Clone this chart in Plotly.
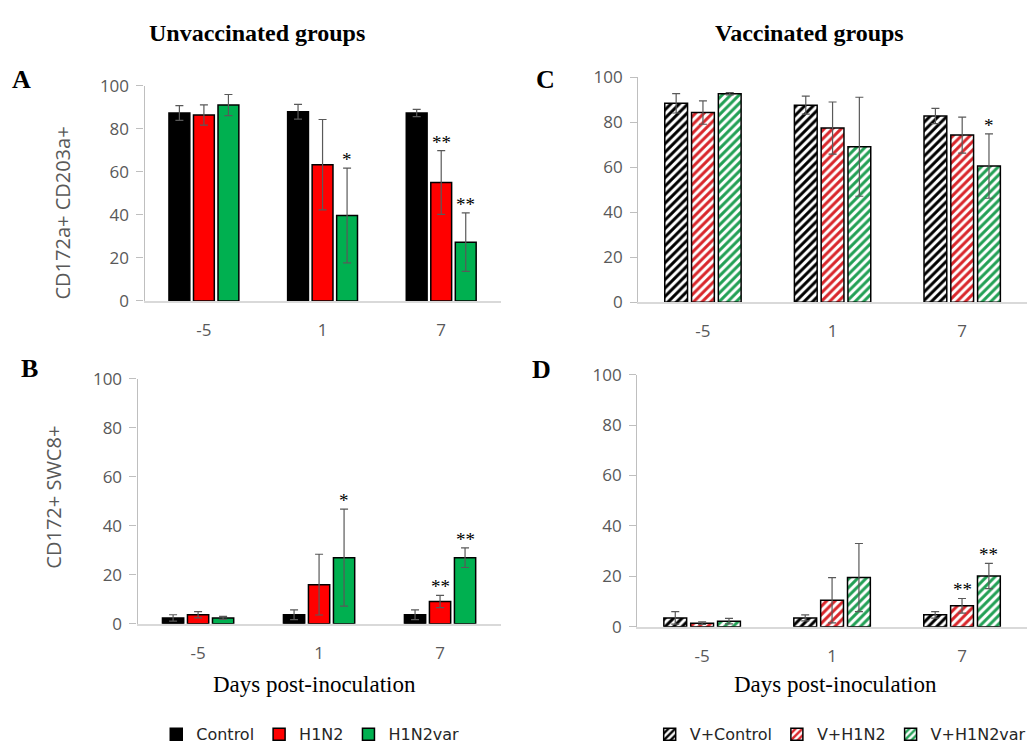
import plotly.graph_objects as go

days = ["-5", "1", "7"]

# Panel A: CD172a+ CD203a+ (unvaccinated)
a_control = [87.3, 87.9, 87.3]
a_control_err = [3.4, 3.4, 1.7]
a_h1n2 = [86.4, 63.3, 55.0]
a_h1n2_err = [4.7, 21.0, 14.8]
a_h1n2var = [91.0, 39.7, 27.3]
a_h1n2var_err = [4.9, 22.0, 13.6]

# Panel B: CD172+ SWC8+ (unvaccinated)
b_control = [2.4, 3.7, 3.7]
b_control_err = [1.3, 2.0, 2.0]
b_h1n2 = [3.7, 16.0, 9.1]
b_h1n2_err = [1.3, 12.4, 2.5]
b_h1n2var = [2.4, 27.0, 27.0]
b_h1n2var_err = [0.6, 19.8, 4.0]

# Panel C: CD172a+ CD203a+ (vaccinated)
c_control = [88.4, 87.6, 82.8]
c_control_err = [4.3, 4.0, 3.4]
c_h1n2 = [84.3, 77.4, 74.3]
c_h1n2_err = [5.2, 11.6, 8.0]
c_h1n2var = [92.7, 69.1, 60.5]
c_h1n2var_err = [0.5, 22.0, 14.3]

# Panel D: CD172+ SWC8+ (vaccinated)
d_control = [3.5, 3.5, 4.7]
d_control_err = [2.5, 1.2, 1.3]
d_h1n2 = [1.4, 10.5, 8.3]
d_h1n2_err = [0.5, 9.0, 2.9]
d_h1n2var = [2.2, 19.5, 20.1]
d_h1n2var_err = [1.1, 13.5, 5.0]

# significance marks: (panel, series index, day index, text)
sig_marks = [
    ("A", 2, 1, "*"), ("A", 1, 2, "**"), ("A", 2, 2, "**"),
    ("B", 2, 1, "*"), ("B", 1, 2, "**"), ("B", 2, 2, "**"),
    ("C", 2, 2, "*"),
    ("D", 1, 2, "**"), ("D", 2, 2, "**"),
]

unvac_names = ["Control", "H1N2", "H1N2var"]
vac_names = ["V+Control", "V+H1N2", "V+H1N2var"]
solid_colors = ["#000000", "#ff0000", "#00b050"]
stripe_colors = ["#000000", "#d9262b", "#22a055"]

panels = {
    "A": dict(ax="", vals=[(a_control, a_control_err), (a_h1n2, a_h1n2_err), (a_h1n2var, a_h1n2var_err)], vac=False, legend=True),
    "B": dict(ax="3", vals=[(b_control, b_control_err), (b_h1n2, b_h1n2_err), (b_h1n2var, b_h1n2var_err)], vac=False, legend=False),
    "C": dict(ax="2", vals=[(c_control, c_control_err), (c_h1n2, c_h1n2_err), (c_h1n2var, c_h1n2var_err)], vac=True, legend=True),
    "D": dict(ax="4", vals=[(d_control, d_control_err), (d_h1n2, d_h1n2_err), (d_h1n2var, d_h1n2var_err)], vac=True, legend=False),
}

fig = go.Figure()

for key, p in panels.items():
    for i, (v, e) in enumerate(p["vals"]):
        if p["vac"]:
            marker = dict(color="white",
                          pattern=dict(shape="/", fgcolor=stripe_colors[i], bgcolor="white",
                                       fgopacity=1, size=6, solidity=0.5, fillmode="replace"),
                          line=dict(color="black", width=1.5))
            name = vac_names[i]
            leg = "legend2"
        else:
            marker = dict(color=solid_colors[i], line=dict(color="black", width=1.5))
            name = unvac_names[i]
            leg = "legend"
        fig.add_trace(go.Bar(
            x=days, y=v, name=name, marker=marker,
            error_y=dict(type="data", array=e, visible=True, color="#595959", thickness=1.2, width=4),
            xaxis="x" + p["ax"], yaxis="y" + p["ax"],
            showlegend=p["legend"], legend=leg,
            offsetgroup=str(i), legendgroup=name,
        ))

bargap = 0.38
slot = (1 - bargap) / 3
for key, s_idx, d_idx, txt in sig_marks:
    p = panels[key]
    v, e = p["vals"][s_idx]
    xpos = d_idx - (1 - bargap) / 2 + (s_idx + 0.5) * slot
    fig.add_annotation(
        x=xpos, y=v[d_idx] + e[d_idx], xref="x" + p["ax"], yref="y" + p["ax"],
        text=txt, showarrow=False, yanchor="bottom", yshift=-4,
        font=dict(family="Liberation Serif", size=19, color="black"),
    )

domains = {
    "": ([145 / 1031, 502 / 1031], [1 - 298 / 756, 1 - 76 / 756]),
    "3": ([138 / 1031, 502 / 1031], [1 - 631 / 756, 1 - 378.5 / 756]),
    "2": ([640 / 1031, 1030 / 1031], [1 - 299.3 / 756, 1 - 67.3 / 756]),
    "4": ([639 / 1031, 1030 / 1031], [1 - 634 / 756, 1 - 374 / 756]),
}

tickfont = dict(family="Open Sans", size=17, color="#595959")
layout_axes = {}
for ax, (xd, yd) in domains.items():
    layout_axes["xaxis" + ax] = dict(
        domain=xd, anchor="y" + ax, type="category", range=[-0.5, 2.5],
        showline=True, linecolor="#d9d9d9", linewidth=1.5, ticks="",
        showgrid=False, zeroline=False, tickfont=tickfont, ticklabelstandoff=13,
        fixedrange=True,
    )
    layout_axes["yaxis" + ax] = dict(
        domain=yd, anchor="x" + ax, range=[0, 100], dtick=20,
        showline=True, linecolor="#bfbfbf", linewidth=1.2, ticks="outside",
        ticklen=7, tickcolor="#bfbfbf", tickwidth=1.2,
        showgrid=False, zeroline=False, tickfont=tickfont, ticklabelstandoff=4,
    )

fig.update_layout(
    width=1031, height=756, margin=dict(l=0, r=0, t=0, b=0),
    paper_bgcolor="white", plot_bgcolor="white",
    barmode="group", bargap=bargap, bargroupgap=0.15,
    legend=dict(orientation="h", x=0.152, y=1 - 745 / 756, xanchor="left", yanchor="middle",
                font=dict(family="DejaVu Sans", size=16, color="#262626"),
                itemwidth=30, traceorder="normal", bgcolor="rgba(0,0,0,0)"),
    legend2=dict(orientation="h", x=0.632, y=1 - 745 / 756, xanchor="left", yanchor="middle",
                 font=dict(family="DejaVu Sans", size=16, color="#262626"),
                 itemwidth=30, traceorder="normal", bgcolor="rgba(0,0,0,0)"),
    **layout_axes,
)

serif = "Liberation Serif"
texts = [
    ("Unvaccinated groups", 258, 22, dict(family=serif, size=24, color="black"), True, 0),
    ("Vaccinated groups", 812, 22, dict(family=serif, size=24, color="black"), True, 0),
    ("A", 22, 70, dict(family=serif, size=26, color="black"), True, 0),
    ("C", 547, 70, dict(family=serif, size=26, color="black"), True, 0),
    ("B", 30, 368, dict(family=serif, size=26, color="black"), True, 0),
    ("D", 543, 369, dict(family=serif, size=26, color="black"), True, 0),
    ("Days post-inoculation", 315, 694, dict(family=serif, size=23, color="black"), False, 0),
    ("Days post-inoculation", 838, 694, dict(family=serif, size=23, color="black"), False, 0),
    ("CD172a+ CD203a+", 63, 207, dict(family="Open Sans", size=20, color="#595959"), False, -90),
    ("CD172+ SWC8+", 54, 500, dict(family="Open Sans", size=20, color="#595959"), False, -90),
]
for t, x, y, f, bold, ang in texts:
    fig.add_annotation(
        x=x / 1031, y=1 - y / 756, xref="paper", yref="paper",
        text=f"<b>{t}</b>" if bold else t, showarrow=False,
        xanchor="center", yanchor="middle", font=f, textangle=ang,
    )

fig.write_html("out.html")
